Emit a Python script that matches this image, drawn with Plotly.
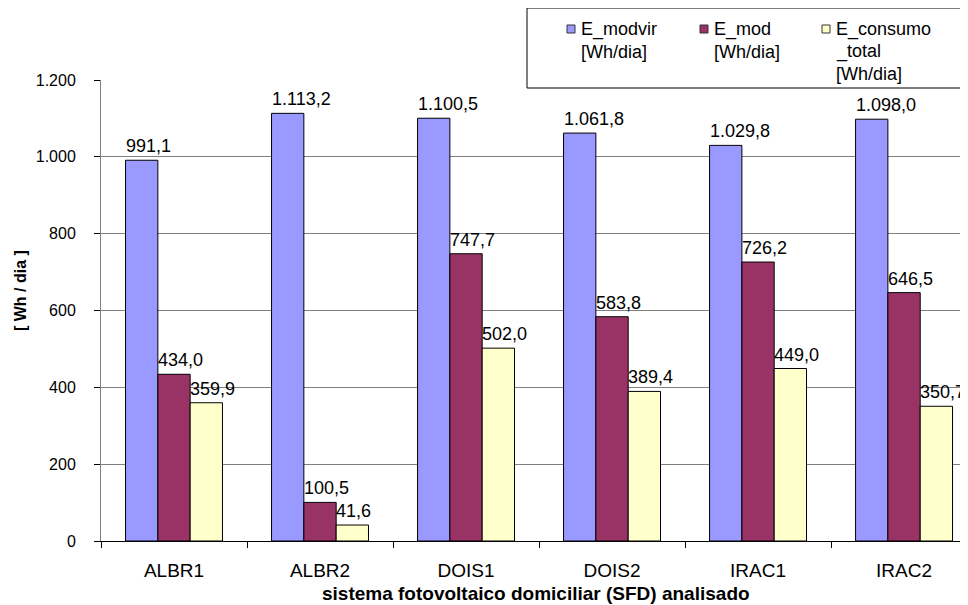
import plotly.graph_objects as go

categories = ["ALBR1", "ALBR2", "DOIS1", "DOIS2", "IRAC1", "IRAC2"]
e_modvir = [991.1, 1113.2, 1100.5, 1061.8, 1029.8, 1098.0]
e_mod = [434.0, 100.5, 747.7, 583.8, 726.2, 646.5]
e_consumo = [359.9, 41.6, 502.0, 389.4, 449.0, 350.7]
series_names = ["E_modvir [Wh/dia]", "E_mod [Wh/dia]", "E_consumo_total [Wh/dia]"]
legend_lines = [["E_modvir", "[Wh/dia]"], ["E_mod", "[Wh/dia]"], ["E_consumo", "_total", "[Wh/dia]"]]
series_colors = ["#9999FF", "#993366", "#FFFFCC"]
y_tickvals = [0, 200, 400, 600, 800, 1000, 1200]
y_ticktext = ["0", "200", "400", "600", "800", "1.000", "1.200"]

FONT = "Liberation Sans, Arial, sans-serif"
BARGAP = 0.336
x_idx = list(range(len(categories)))

# plot area in page pixels (the page body adds an 8px offset)
PL, PR, PT, PB = 101, 968, 80, 541


def px_x(p):
    return (p - PL) / (PR - PL)


def px_y(p):
    return (PB - p) / (PB - PT)


def fmt(v):
    s = f"{v:,.1f}"
    return s.replace(",", "X").replace(".", ",").replace("X", ".")


fig = go.Figure()
all_series = [e_modvir, e_mod, e_consumo]
for name, vals, col in zip(series_names, all_series, series_colors):
    fig.add_trace(go.Bar(
        x=x_idx, y=vals, name=name,
        marker=dict(color=col, line=dict(color="black", width=1)),
    ))

w = (1 - BARGAP) / 3
for k, vals in enumerate(all_series):
    for i, v in enumerate(vals):
        fig.add_annotation(
            x=i + (k - 1.5) * w, y=v, text=fmt(v), showarrow=False,
            xanchor="left", yanchor="bottom", xshift=-2, yshift=2,
            font=dict(family=FONT, size=18, color="black"),
        )

# axis titles
fig.add_annotation(
    xref="paper", yref="paper", x=px_x(20), y=px_y(291),
    xanchor="center", yanchor="middle",
    text="<b>[ Wh / dia ]</b>", textangle=-90, showarrow=False,
    font=dict(family=FONT, size=16, color="black"),
)
fig.add_annotation(
    xref="paper", yref="paper", x=px_x(536), y=px_y(593),
    text="<b>sistema fotovoltaico domiciliar (SFD) analisado</b>", showarrow=False,
    xanchor="center", yanchor="middle",
    font=dict(family=FONT, size=19, color="black"),
)

# legend box
fig.add_shape(type="rect", xref="paper", yref="paper",
              x0=px_x(527), x1=px_x(990), y0=px_y(88), y1=px_y(8),
              line=dict(color="black", width=1), fillcolor="white", layer="above")
legend_sq_x = [567, 700, 822]
for lines, col, sx in zip(legend_lines, series_colors, legend_sq_x):
    fig.add_shape(type="rect", xref="paper", yref="paper",
                  x0=px_x(sx), x1=px_x(sx + 8), y0=px_y(33), y1=px_y(25),
                  line=dict(color="#333333", width=1), fillcolor=col, layer="above")
    for j, line in enumerate(lines):
        fig.add_annotation(
            xref="paper", yref="paper", x=px_x(sx + 12), y=px_y(30 + 22 * j),
            xanchor="left", yanchor="middle", text=line, showarrow=False,
            font=dict(family=FONT, size=18, color="black"),
        )

fig.update_layout(
    width=968, height=597,
    margin=dict(l=93, r=8, t=72, b=64, autoexpand=False),
    paper_bgcolor="white", plot_bgcolor="white",
    barmode="group", bargap=BARGAP, bargroupgap=0,
    font=dict(family=FONT, size=18, color="black"),
    showlegend=False,
    xaxis=dict(
        range=[-0.5, 5.438], tickvals=x_idx, ticktext=categories,
        ticks="", showgrid=False, zeroline=False,
        showline=True, linecolor="black", linewidth=1,
        tickfont=dict(family=FONT, size=19, color="black"),
        ticklabelstandoff=12,
        minor=dict(tickvals=[i - 0.5 for i in range(len(categories) + 1)],
                   ticks="outside", ticklen=6, tickcolor="black", showgrid=False),
    ),
    yaxis=dict(
        range=[0, 1200], tickvals=y_tickvals, ticktext=y_ticktext,
        ticks="outside", ticklen=6, tickcolor="black",
        showgrid=True, gridcolor="#808080", gridwidth=1,
        zeroline=False, showline=True, linecolor="#808080", linewidth=1,
        tickfont=dict(family=FONT, size=16, color="black"),
        ticklabelstandoff=15,
    ),
)

fig.write_html("out.html")
